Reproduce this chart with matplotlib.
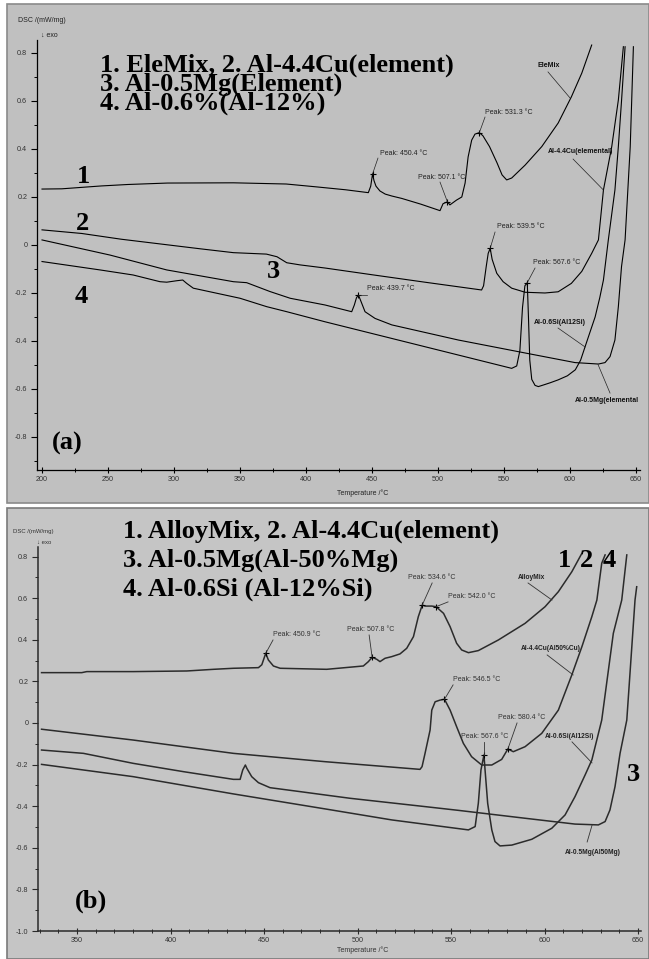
import matplotlib
matplotlib.use('Agg')
import matplotlib.pyplot as plt
from matplotlib.patches import Rectangle
from matplotlib.ticker import MultipleLocator

SMALL = ['Liberation Sans', 'DejaVu Sans']
SERIF = ['Liberation Serif', 'DejaVu Serif']

# ---------------- panel (a): elemental additions ----------------
a1_T = [200, 215, 230, 245, 265, 295, 345, 385, 408, 430, 447.2, 449, 450.4, 451.5, 453,
        456, 460, 465, 472.5, 487, 501.5, 503.8, 505.5, 507.1, 509, 514, 518, 520.5,
        522.8, 525.5, 528, 531.3, 534, 539, 544.7, 548.5, 552, 555.8, 566, 578.6, 591,
        601, 608.9, 616.4]
a1_dsc = [0.233, 0.234, 0.240, 0.246, 0.252, 0.258, 0.259, 0.254, 0.242, 0.230, 0.218,
          0.245, 0.296, 0.268, 0.245, 0.225, 0.212, 0.204, 0.194, 0.170, 0.143, 0.172,
          0.176, 0.180, 0.167, 0.187, 0.200, 0.258, 0.367, 0.437, 0.462, 0.468, 0.455,
          0.410, 0.342, 0.292, 0.271, 0.279, 0.333, 0.410, 0.508, 0.617, 0.716, 0.833]

a2_T = [200, 230, 260, 290, 320, 345, 370, 378, 385.4, 395.5, 414.4, 450, 490, 533,
        534.5, 536.5, 538, 539.5, 541, 544.5, 549.3, 555.8, 566, 581, 591, 601, 608.9,
        616.4, 621.5, 625.3, 631.6, 636.6, 640.4]
a2_dsc = [0.063, 0.048, 0.024, 0.004, -0.016, -0.032, -0.038, -0.049, -0.074, -0.083,
          -0.096, -0.124, -0.155, -0.1875, -0.170, -0.090, -0.035, -0.014, -0.060, -0.118,
          -0.153, -0.180, -0.197, -0.200, -0.195, -0.160, -0.110, -0.035, 0.021, 0.229,
          0.410, 0.604, 0.826]

a3_T = [200, 251.5, 294.5, 345, 355, 372.7, 388, 414.4, 434.6, 436.6, 438.2, 439.7,
        441.2, 444.7, 452.3, 465, 515.4, 566, 603.8, 621.5, 626.5, 630.3, 634, 636.6,
        639, 641.7, 645.6, 648]
a3_dsc = [0.021, -0.042, -0.104, -0.153, -0.157, -0.194, -0.222, -0.250, -0.278, -0.250,
          -0.220, -0.208, -0.229, -0.278, -0.306, -0.333, -0.396, -0.450, -0.490, -0.496,
          -0.490, -0.465, -0.396, -0.257, -0.090, 0.021, 0.410, 0.826]

a4_T = [200, 244, 269, 289.4, 294.5, 302, 306.6, 309.6, 314.6, 332.3, 350, 370.2, 385.4,
        414.4, 490.2, 555.8, 559.6, 562, 564, 565.8, 567.6, 568.5, 569.5, 571, 573.5, 576,
        580, 585, 591, 598, 604, 608, 611.4, 615, 619, 622.5, 625.3, 629, 634, 636.6, 639,
        641.7]
a4_dsc = [-0.069, -0.104, -0.125, -0.153, -0.155, -0.149, -0.146, -0.160, -0.180, -0.201,
          -0.222, -0.257, -0.278, -0.320, -0.424, -0.514, -0.504, -0.440, -0.260, -0.170,
          -0.157, -0.300, -0.480, -0.560, -0.585, -0.590, -0.583, -0.574, -0.562, -0.545,
          -0.520, -0.480, -0.424, -0.365, -0.300, -0.220, -0.146, 0.021, 0.229, 0.410,
          0.600, 0.826]

a_peak_T = [450.4, 507.1, 531.3, 539.5, 567.6, 439.7]
a_peak_dsc = [0.296, 0.180, 0.468, -0.014, -0.157, -0.208]
a_peak_text_xy = [(456, 0.383), (484.9, 0.283), (535.6, 0.554), (544.7, 0.075),
                  (572, -0.071), (446.2, -0.183)]
a_peak_lead = [(454.5, 0.362), (501.5, 0.262), (535.6, 0.533), (543.2, 0.054),
               (573.5, -0.096), (446.2, -0.208)]

a_names = ['EleMix', 'Al-4.4Cu(elemental)', 'Al-0.6Si(Al12Si)', 'Al-0.5Mg(elemental']
a_name_xy = [(575, 0.746), (583.3, 0.3875), (572.7, -0.321), (603.8, -0.646)]
a_name_lead = [((583.3, 0.721), (600, 0.6125)), ((602.3, 0.358), (625.3, 0.229)),
               ((590.9, -0.346), (611.4, -0.425)), ((630.3, -0.617), (621.2, -0.498))]
a_legend = ['1. EleMix, 2. Al-4.4Cu(element)', '3. Al-0.5Mg(Element)', '4. Al-0.6%(Al-12%)']

# ---------------- panel (b): master alloy additions ----------------
b1_T = [331, 352.5, 355.2, 380, 408.7, 423, 433.6, 447, 448.8, 450.9, 452.3, 455, 458.6,
        483.5, 503.1, 505.8, 507.8, 510.3, 512, 514.7, 518.3, 522.7, 526.3, 529.9, 532.5,
        534.6, 536.1, 539.7, 542, 546, 549.5, 553, 555.7, 559.3, 564.6, 575.3, 589.6,
        600.3, 607.4, 614.6, 620]
b1_dsc = [0.242, 0.242, 0.247, 0.247, 0.250, 0.258, 0.263, 0.266, 0.280, 0.335, 0.303,
          0.274, 0.263, 0.258, 0.274, 0.295, 0.316, 0.306, 0.295, 0.311, 0.319, 0.332,
          0.359, 0.415, 0.511, 0.567, 0.562, 0.562, 0.559, 0.527, 0.463, 0.383, 0.351,
          0.338, 0.348, 0.399, 0.479, 0.559, 0.631, 0.727, 0.816]

b2_T = [331, 380, 433.6, 482.6, 533.4, 534.5, 536.1, 538.8, 539.7, 541.5, 544.1, 546.5,
        549.5, 553, 556.6, 561, 566.4, 571.8, 577.1, 580.4, 583.3, 589.6, 598.5, 607.4,
        614.6, 620, 625.3, 628, 630.6, 632.4]
b2_dsc = [-0.030, -0.082, -0.146, -0.186, -0.223, -0.210, -0.146, -0.034, 0.062, 0.102,
          0.110, 0.114, 0.062, -0.018, -0.098, -0.162, -0.202, -0.202, -0.175, -0.125,
          -0.138, -0.114, -0.050, 0.062, 0.231, 0.367, 0.511, 0.591, 0.768, 0.808]

b3_T = [331, 353.4, 380, 406.9, 433.6, 437.2, 438.6, 440, 440.8, 443.4, 447, 453.2,
        469.3, 482.6, 496, 536.1, 553.9, 589.6, 616.3, 628.8, 632.4, 635, 637.7, 640.4,
        644, 648.4, 649.3]
b3_dsc = [-0.130, -0.146, -0.194, -0.234, -0.271, -0.271, -0.226, -0.202, -0.218, -0.258,
          -0.287, -0.311, -0.330, -0.346, -0.362, -0.402, -0.420, -0.458, -0.486, -0.490,
          -0.474, -0.418, -0.306, -0.146, 0.014, 0.591, 0.655]

b4_T = [331, 380, 433.6, 482.6, 518.3, 559.3, 562.9, 564.6, 566, 567.6, 568.2, 569.6,
        571.8, 573.5, 576.2, 582.5, 593.2, 603.9, 611, 616.3, 621.7, 625.3, 630.6, 636.8,
        641.3, 644]
b4_dsc = [-0.199, -0.258, -0.341, -0.413, -0.466, -0.514, -0.498, -0.386, -0.226, -0.154,
          -0.226, -0.386, -0.514, -0.570, -0.591, -0.587, -0.559, -0.506, -0.442, -0.354,
          -0.250, -0.178, 0.014, 0.431, 0.591, 0.808]

b_peak_T = [450.9, 507.8, 534.6, 542.0, 546.5, 580.4, 567.6]
b_peak_dsc = [0.335, 0.316, 0.567, 0.559, 0.114, -0.125, -0.154]
b_peak_text_xy = [(454.8, 0.423), (494.4, 0.447), (527, 0.697), (548.4, 0.606),
                  (551.1, 0.207), (575.2, 0.024), (555.4, -0.067)]
b_peak_lead = [(454.8, 0.399), (506.2, 0.423), (539.9, 0.673), (548.4, 0.582),
               (551.1, 0.183), (585.3, 0.0), (567.6, -0.091)]

b_names = ['AlloyMix', 'Al-4.4Cu(Al50%Cu)', 'Al-0.6Si(Al12Si)', 'Al-0.5Mg(Al50Mg)']
b_name_xy = [(585.8, 0.697), (587.5, 0.356), (600.3, -0.067), (611, -0.625)]
b_name_lead = [((591.2, 0.673), (604, 0.591)), ((601.4, 0.327), (615.3, 0.231)),
               ((614.7, -0.091), (625.4, -0.192)), ((622.8, -0.572), (625.4, -0.492))]
b_legend = ['1. AlloyMix, 2. Al-4.4Cu(element)', '3. Al-0.5Mg(Al-50%Mg)',
            '4. Al-0.6Si (Al-12%Si)']

a_yticks = [-0.8, -0.6, -0.4, -0.2, 0, 0.2, 0.4, 0.6, 0.8]
a_ylabels = ['-0.8', '-0.6', '-0.4', '-0.2', '0', '0.2', '0.4', '0.6', '0.8']
b_yticks = [-1.0, -0.8, -0.6, -0.4, -0.2, 0, 0.2, 0.4, 0.6, 0.8]
b_ylabels = ['-1.0', '-0.8', '-0.6', '-0.4', '-0.2', '0', '0.2', '0.4', '0.6', '0.8']
a_xticks = [200, 250, 300, 350, 400, 450, 500, 550, 600, 650]
b_xticks = [350, 400, 450, 500, 550, 600, 650]

W, H = 649.0, 959.0


def fx(px):
    return px / W


def fy(py):
    return 1 - py / H


def setup_axes(ax, xticks, xminor, yticks, ylabels, col, lw):
    for s in ['top', 'right']:
        ax.spines[s].set_visible(False)
    for s in ['left', 'bottom']:
        ax.spines[s].set_color(col)
        ax.spines[s].set_linewidth(lw)
    ax.set_facecolor('none')
    ax.set_xticks(xticks)
    ax.set_xticklabels([str(t) for t in xticks])
    ax.xaxis.set_minor_locator(MultipleLocator(xminor))
    ax.set_yticks(yticks)
    ax.set_yticklabels(ylabels)
    ax.yaxis.set_minor_locator(MultipleLocator(0.1))
    ax.tick_params(axis='x', which='major', direction='inout', length=5, width=0.8,
                   colors=col, labelcolor='#333333', pad=2)
    ax.tick_params(axis='x', which='minor', direction='inout', length=3, width=0.7,
                   colors=col)
    ax.tick_params(axis='y', which='major', direction='out', length=4, width=0.8,
                   colors=col, labelcolor='#333333', pad=3)
    ax.tick_params(axis='y', which='minor', direction='out', length=2.5, width=0.7,
                   colors=col)
    for lab in ax.get_xticklabels() + ax.get_yticklabels():
        lab.set_family(SMALL)
        lab.set_fontsize(5.2)


fig = plt.figure(figsize=(6.49, 9.59), dpi=100)
fig.patch.set_facecolor('white')

# gray panel backgrounds, kept behind the axes
fig.patches.append(Rectangle((fx(7), fy(503)), fx(649) - fx(7), fy(4) - fy(503),
                             transform=fig.transFigure, facecolor='#c0c0c0',
                             edgecolor='#8a8a8a', lw=1.2, zorder=-10))
fig.patches.append(Rectangle((fx(7), fy(959)), fx(649) - fx(7), fy(508) - fy(959),
                             transform=fig.transFigure, facecolor='#c5c5c5',
                             edgecolor='#7a7a7a', lw=1.2, zorder=-10))

# ---- panel (a) ----
axa = fig.add_axes([fx(37), fy(470), fx(640) - fx(37), fy(40) - fy(470)])
axa.set_xlim(196.2, 653)
axa.set_ylim(-0.9375, 0.854)
setup_axes(axa, a_xticks, 25, a_yticks, a_ylabels, 'black', 0.9)

for T, d in [(a1_T, a1_dsc), (a2_T, a2_dsc), (a3_T, a3_dsc), (a4_T, a4_dsc)]:
    axa.plot(T, d, color='black', lw=0.8, clip_on=False)
axa.plot(a_peak_T, a_peak_dsc, ls='none', marker='+', ms=4, mew=0.8, color='black')
for (tx, ty), (lx, ly), pT, pd in zip(a_peak_text_xy, a_peak_lead, a_peak_T, a_peak_dsc):
    axa.text(tx, ty, 'Peak: %.1f \u00b0C' % pT, fontsize=5, family=SMALL,
             color='#222222', ha='left', va='center')
    axa.plot([lx, pT], [ly, pd], color='#222222', lw=0.5)
for name, (tx, ty), (p0, p1) in zip(a_names, a_name_xy, a_name_lead):
    axa.text(tx, ty, name, fontsize=5, family=SMALL, weight='bold', color='#111111',
             ha='left', va='center')
    axa.plot([p0[0], p1[0]], [p0[1], p1[1]], color='#222222', lw=0.5)

for i, line in enumerate(a_legend):
    fig.text(fx(100), fy(72 + 19 * i), line, fontsize=19, family=SERIF, weight='bold',
             ha='left', va='baseline')
for txt, px, py in [('1', 77, 183), ('2', 76, 230), ('3', 267, 278), ('4', 75, 303),
                    ('(a)', 52, 450)]:
    fig.text(fx(px), fy(py), txt, fontsize=19, family=SERIF, weight='bold',
             ha='left', va='baseline')
fig.text(fx(18), fy(21), 'DSC /(mW/mg)', fontsize=5, family=SMALL, color='#222222',
         ha='left', va='center')
fig.text(fx(41), fy(35), '\u2193 exo', fontsize=5, family=SMALL, color='#222222',
         ha='left', va='center')
fig.text(fx(363), fy(493), 'Temperature /\u00b0C', fontsize=5, family=SMALL,
         color='#222222', ha='center', va='center')

# ---- panel (b) ----
axb = fig.add_axes([fx(38), fy(931), fx(641) - fx(38), fy(547) - fy(931)])
axb.set_xlim(329.1, 651.6)
axb.set_ylim(-1.0, 0.846)
setup_axes(axb, b_xticks, 10, b_yticks, b_ylabels, '#2a2a2a', 1.1)

for T, d in [(b1_T, b1_dsc), (b2_T, b2_dsc), (b3_T, b3_dsc), (b4_T, b4_dsc)]:
    axb.plot(T, d, color='#2b2b2b', lw=1.1, clip_on=False)
axb.plot(b_peak_T, b_peak_dsc, ls='none', marker='+', ms=4, mew=0.8, color='black')
for (tx, ty), (lx, ly), pT, pd in zip(b_peak_text_xy, b_peak_lead, b_peak_T, b_peak_dsc):
    axb.text(tx, ty, 'Peak: %.1f \u00b0C' % pT, fontsize=5, family=SMALL,
             color='#333333', ha='left', va='center')
    axb.plot([lx, pT], [ly, pd], color='#333333', lw=0.6)
for name, (tx, ty), (p0, p1) in zip(b_names, b_name_xy, b_name_lead):
    axb.text(tx, ty, name, fontsize=4.8, family=SMALL, weight='bold', color='#222222',
             ha='left', va='center')
    axb.plot([p0[0], p1[0]], [p0[1], p1[1]], color='#333333', lw=0.6)

for i, line in enumerate(b_legend):
    fig.text(fx(123), fy(538 + 29 * i), line, fontsize=19, family=SERIF, weight='bold',
             ha='left', va='baseline')
for txt, px, py in [('1', 558, 567), ('2', 580, 567), ('4', 603, 567), ('3', 627, 781),
                    ('(b)', 75, 908)]:
    fig.text(fx(px), fy(py), txt, fontsize=19, family=SERIF, weight='bold',
             ha='left', va='baseline')
fig.text(fx(13), fy(532), 'DSC /(mW/mg)', fontsize=4.3, family=SMALL, color='#333333',
         ha='left', va='center')
fig.text(fx(37), fy(542), '\u2193 exo', fontsize=4.3, family=SMALL, color='#333333',
         ha='left', va='center')
fig.text(fx(363), fy(950), 'Temperature /\u00b0C', fontsize=5, family=SMALL,
         color='#333333', ha='center', va='center')

fig.savefig('out.png', dpi=100, facecolor='white')
